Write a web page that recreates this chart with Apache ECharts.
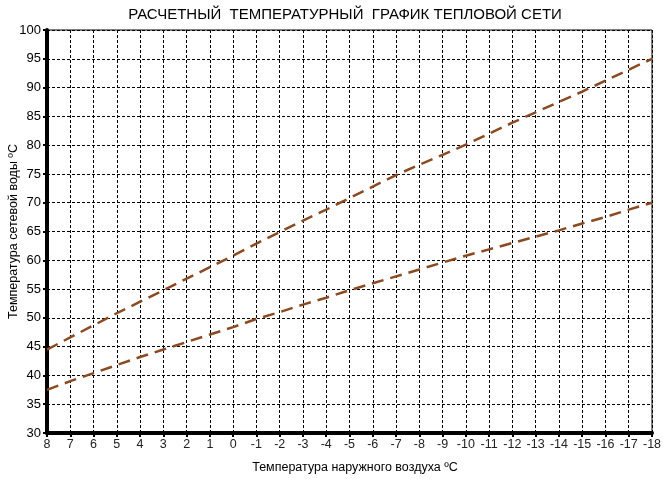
<!DOCTYPE html>
<html><head><meta charset="utf-8">
<script src="https://cdn.jsdelivr.net/npm/echarts@6/dist/echarts.min.js"></script>
<style>html,body{margin:0;padding:0;background:#fff}#c{width:663px;height:479px}</style>
</head><body><div id="c"></div>
<script>
var categories = ['8','7','6','5','4','3','2','1','0','-1','-2','-3','-4','-5','-6','-7','-8','-9','-10','-11','-12','-13','-14','-15','-16','-17','-18'];
var supplyTemp = [44.5,46.6,48.7,50.8,52.8,54.8,56.8,58.8,60.8,62.9,64.9,66.9,68.8,70.8,72.8,74.8,76.6,78.3,80.1,82.0,83.9,85.7,87.5,89.3,91.2,93.1,95.0];
var returnTemp = [37.5,39.0,40.4,41.8,43.2,44.5,45.8,47.1,48.4,49.8,51.0,52.3,53.5,54.8,56.0,57.2,58.4,59.6,60.8,61.9,63.0,64.1,65.2,66.4,67.5,68.8,70.0];
var titleText = 'РАСЧЕТНЫЙ  ТЕМПЕРАТУРНЫЙ  ГРАФИК ТЕПЛОВОЙ СЕТИ';
var xName = 'Температура наружного воздуха ºC';
var yName = 'Температура сетевой воды ºC';

var chart = echarts.init(document.getElementById('c'), null, {renderer:'canvas'});
var font = 'Liberation Sans, Arial, sans-serif';
var lineStyle = {color:'#8a4a22', width:2.5, type:[12,7]};
chart.setOption({
  animation:false,
  backgroundColor:'#fff',
  title:{text:titleText, left:340, top:2, textAlign:'center',
    textStyle:{fontFamily:font, fontSize:15, fontWeight:'normal', color:'#000'}},
  grid:{left:47, right:11, top:30, bottom:46, outerBoundsMode:'none', containLabel:false,
    show:true, borderColor:'#000', borderWidth:1, backgroundColor:'transparent'},
  xAxis:{type:'category', data:categories, boundaryGap:false,
    name:xName, nameLocation:'middle', nameGap:28, nameMoveOverlap:false,
    nameTextStyle:{fontFamily:font, fontSize:12.5, color:'#000', padding:[0,0,0,11]},
    axisLine:{lineStyle:{color:'#000', width:4}},
    axisTick:{show:true, interval:0, length:4, lineStyle:{color:'#000', width:2}},
    axisLabel:{interval:0, hideOverlap:false, fontFamily:font, fontSize:12.5, color:'#222', margin:5},
    splitLine:{show:true, interval:0, lineStyle:{color:'#000', width:1, type:[3,2]}}},
  yAxis:{type:'value', min:30, max:100, interval:5,
    name:yName, nameLocation:'middle', nameGap:27, nameMoveOverlap:false,
    nameTextStyle:{fontFamily:font, fontSize:12.5, color:'#000'},
    axisLine:{show:true, lineStyle:{color:'#000', width:4}},
    axisTick:{show:true, length:4, lineStyle:{color:'#000', width:2}},
    axisLabel:{fontFamily:font, fontSize:13, color:'#000', margin:6},
    splitLine:{show:true, lineStyle:{color:'#000', width:1, type:[3,2]}}},
  series:[
    {type:'line', data:supplyTemp, showSymbol:false, lineStyle:lineStyle, z:5},
    {type:'line', data:returnTemp, showSymbol:false, lineStyle:lineStyle, z:5}
  ]
});
</script></body></html>
